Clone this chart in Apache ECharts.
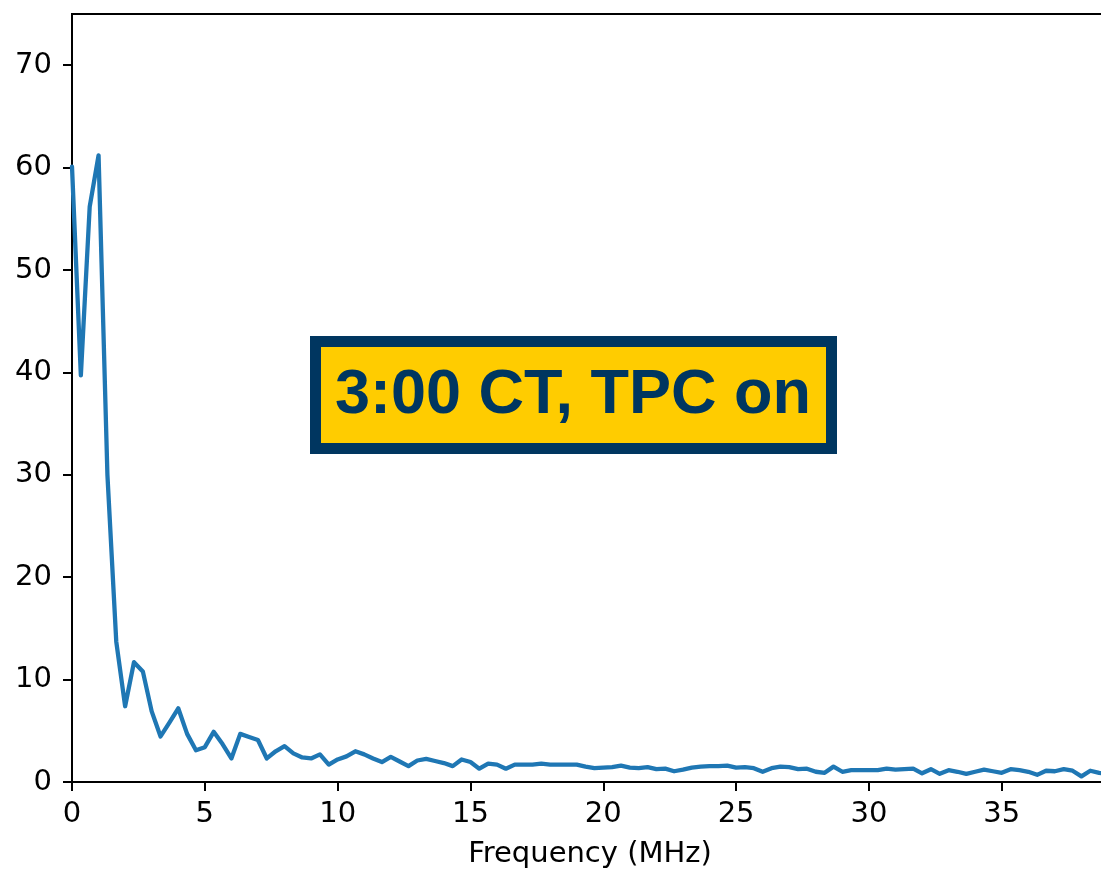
<!DOCTYPE html>
<html>
<head>
<meta charset="utf-8">
<title>3:00 CT, TPC on</title>
<script src="https://cdn.jsdelivr.net/npm/echarts@6/dist/echarts.min.js"></script>
<style>
  html, body { margin: 0; padding: 0; background: #ffffff; overflow: hidden; width: 1101px; height: 874px; }
  /* the plot runs slightly past the right edge of the page */
  #chart { width: 1108px; height: 874px; }
</style>
</head>
<body>
<div id="chart"></div>
<script>
// Spectrum amplitude per FFT bin (bins are 1/3 MHz apart, starting at 0 MHz)
const amplitude = [
  60.1, 39.7, 56.2, 61.2, 30.0, 13.7, 7.4, 11.7, 10.8, 6.9,
  4.45, 5.8, 7.2, 4.7, 3.1, 3.4, 4.9, 3.7, 2.3, 4.7,
  4.4, 4.1, 2.3, 3.0, 3.5, 2.8, 2.4, 2.3, 2.7, 1.7,
  2.2, 2.5, 3.0, 2.7, 2.3, 1.95, 2.45, 2.0, 1.55, 2.1,
  2.25, 2.05, 1.85, 1.55, 2.2, 1.95, 1.3, 1.8, 1.7, 1.3,
  1.7, 1.7, 1.7, 1.8, 1.7, 1.7, 1.7, 1.7, 1.5, 1.35,
  1.4, 1.45, 1.6, 1.4, 1.35, 1.45, 1.25, 1.3, 1.05, 1.2,
  1.4, 1.5, 1.55, 1.55, 1.6, 1.4, 1.45, 1.35, 1.0, 1.35,
  1.5, 1.45, 1.25, 1.3, 1.0, 0.9, 1.5, 1.0, 1.15, 1.15,
  1.15, 1.15, 1.3, 1.2, 1.25, 1.3, 0.85, 1.25, 0.8, 1.15,
  1.0, 0.8, 1.0, 1.2, 1.05, 0.9, 1.25, 1.15, 1.0, 0.7,
  1.1, 1.05, 1.25, 1.1, 0.55, 1.1, 0.9, 0.8
];
const binWidthMHz = 1 / 3;
const frequency = amplitude.map((_, i) => i * binWidthMHz);

const xTicks = [0, 5, 10, 15, 20, 25, 30, 35];
const yTicks = [0, 10, 20, 30, 40, 50, 60, 70];
const xName = 'Frequency (MHz)';
const banner = '3:00 CT, TPC on';

const points = frequency.map((f, i) => [f, amplitude[i]]);

const axisFont = { fontFamily: 'DejaVu Sans', fontSize: 29, color: '#000000' };
const axisLine = { show: true, lineStyle: { color: '#000000', width: 2 } };
const axisTickStyle = { lineStyle: { color: '#000000', width: 2 } };

const chart = echarts.init(document.getElementById('chart'), null, { renderer: 'canvas' });
chart.setOption({
  animation: false,
  backgroundColor: '#ffffff',
  grid: {
    left: 72, right: 0, top: 14, bottom: 90,
    show: true, borderColor: '#000000', borderWidth: 2, backgroundColor: 'transparent'
  },
  xAxis: {
    type: 'value',
    min: 0, max: 39,
    name: xName,
    nameLocation: 'middle',
    nameGap: 58,
    nameTextStyle: axisFont,
    axisLine: axisLine,
    axisTick: Object.assign({ show: true, inside: false, length: 9, customValues: xTicks }, axisTickStyle),
    axisLabel: Object.assign({ margin: 18, customValues: xTicks }, axisFont),
    splitLine: { show: false }
  },
  yAxis: {
    type: 'value',
    min: 0, max: 75,
    axisLine: axisLine,
    axisTick: Object.assign({ show: true, inside: false, length: 9, customValues: yTicks }, axisTickStyle),
    axisLabel: Object.assign({ margin: 20, customValues: yTicks }, axisFont),
    splitLine: { show: false }
  },
  series: [{
    type: 'line',
    data: points,
    showSymbol: false,
    symbol: 'none',
    clip: true,
    lineStyle: { color: '#1f77b4', width: 4.3, join: 'round', cap: 'round' }
  }],
  graphic: [
    {
      type: 'rect',
      left: 310, top: 336,
      shape: { width: 527, height: 118 },
      style: { fill: '#003660' },
      z: 100
    },
    {
      type: 'rect',
      left: 321, top: 347,
      shape: { width: 505, height: 96 },
      style: { fill: '#ffcc00' },
      z: 101
    },
    {
      type: 'text',
      x: 573, y: 396,
      style: {
        text: banner,
        fill: '#003660',
        font: 'bold 63px "Liberation Sans", Arial, sans-serif',
        align: 'center',
        verticalAlign: 'middle'
      },
      z: 102
    }
  ]
});
</script>
</body>
</html>
